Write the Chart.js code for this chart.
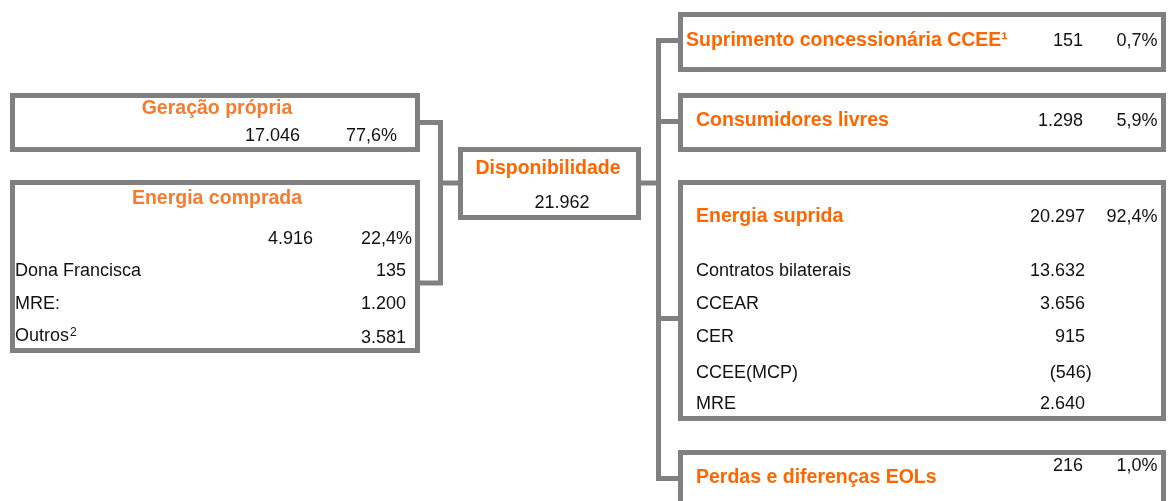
<!DOCTYPE html>
<html>
<head>
<meta charset="utf-8">
<script src="https://cdn.jsdelivr.net/npm/chart.js@4"></script>
<style>
  body { margin: 0; background: #fff; }
  #wrap { width: 1168px; height: 501px; }
</style>
</head>
<body>
<div id="wrap"><canvas id="flow" width="1168" height="501"></canvas></div>
<script>
// Energy balance values
const leftTitles = ['Geração própria', 'Energia comprada'];
const leftTotals = ['17.046', '4.916'];
const leftShares = ['77,6%', '22,4%'];
const boughtItems = ['Dona Francisca', 'MRE:', 'Outros'];
const boughtValues = ['135', '1.200', '3.581'];
const availableTitle = 'Disponibilidade';
const availableTotal = '21.962';
const rightTitles = ['Suprimento concessionária CCEE¹', 'Consumidores livres', 'Energia suprida', 'Perdas e diferenças EOLs'];
const rightTotals = ['151', '1.298', '20.297', '216'];
const rightShares = ['0,7%', '5,9%', '92,4%', '1,0%'];
const suppliedItems = ['Contratos bilaterais', 'CCEAR', 'CER', 'CCEE(MCP)', 'MRE'];
const suppliedValues = ['13.632', '3.656', '915', '(546)', '2.640'];

// Layout of the diagram, in reference pixel units (x 0..1168, y 0..501)
const gray = '#808080';
const orangeLeft = '#F47C30';
const orange = '#FF6600';
const boxes = [
    [12.5, 95.5, 417.5, 149.5],     // geração própria
    [12.5, 182.5, 417.5, 350.5],    // energia comprada
    [460.5, 149.5, 638.5, 217.5],   // disponibilidade
    [680.5, 14.5, 1163.5, 69.5],    // suprimento
    [680.5, 95.5, 1163.5, 149.5],   // consumidores livres
    [680.5, 182.5, 1163.5, 418.5],  // energia suprida
    [680.5, 452.5, 1163.5, 520]     // perdas
];
const connectors = [
    [[418, 122.5], [440.5, 122.5], [440.5, 283], [418, 283]],
    [[440.5, 183], [459, 183]],
    [[640, 183], [658.5, 183]],
    [[679, 40.5], [658.5, 40.5], [658.5, 478.5], [679, 478.5]],
    [[658.5, 121.5], [679, 121.5]],
    [[658.5, 318.5], [679, 318.5]]
];

function rectPoints(b) {
    return [
        { x: b[0], y: b[1] }, { x: b[2], y: b[1] },
        { x: b[2], y: b[3] }, { x: b[0], y: b[3] }, { x: b[0], y: b[1] }
    ];
}

function lineSet(points) {
    return {
        data: points,
        showLine: true,
        borderColor: gray,
        borderWidth: 5,
        borderJoinStyle: 'miter',
        borderCapStyle: 'square',
        pointRadius: 0,
        fill: false,
        tension: 0
    };
}

const datasets = boxes.map(b => lineSet(rectPoints(b)))
    .concat(connectors.map(c => lineSet(c.map(p => ({ x: p[0], y: p[1] })))));

// Text drawn through the chart scales
const textPlugin = {
    id: 'flowText',
    afterDatasetsDraw(chart) {
        const ctx = chart.ctx;
        const sx = chart.scales.x, sy = chart.scales.y;
        const put = (txt, x, y, align, font, color) => {
            ctx.font = font;
            ctx.fillStyle = color;
            ctx.textAlign = align;
            ctx.textBaseline = 'middle';
            ctx.fillText(txt, sx.getPixelForValue(x), sy.getPixelForValue(y));
        };
        const bold = 'bold 19.5px "Liberation Sans", Arial, sans-serif';
        const reg = '18px "Liberation Sans", Arial, sans-serif';
        const ink = '#111';

        ctx.save();
        // left side
        put(leftTitles[0], 217, 108.5, 'center', bold, orangeLeft);
        put(leftTotals[0], 300, 136.5, 'right', reg, ink);
        put(leftShares[0], 397, 136.5, 'right', reg, ink);
        put(leftTitles[1], 217, 199, 'center', bold, orangeLeft);
        put(leftTotals[1], 313, 239.5, 'right', reg, ink);
        put(leftShares[1], 412, 239.5, 'right', reg, ink);
        const boughtY = [271, 303.7, 336];
        boughtItems.forEach((t, i) => {
            put(t, 15, boughtY[i], 'left', reg, ink);
            put(boughtValues[i], 406, boughtY[i] + (i === 2 ? 2 : 0), 'right', reg, ink);
        });
        ctx.font = reg;
        const supX = 15 + ctx.measureText(boughtItems[2]).width + 1;
        put('2', supX, 332.5, 'left', '12px "Liberation Sans", Arial, sans-serif', ink);

        // centre
        put(availableTitle, 548, 169, 'center', bold, orange);
        put(availableTotal, 562, 203, 'center', reg, ink);

        // right side
        const titleX = [686, 696, 696, 696];
        const titleY = [40.5, 120.8, 216.5, 477.5];
        const numY = [41, 121, 216.7, 466];
        const numX = [1083, 1083, 1085, 1083];
        rightTitles.forEach((t, i) => {
            put(t, titleX[i], titleY[i], 'left', bold, orange);
            put(rightTotals[i], numX[i], numY[i], 'right', reg, ink);
            put(rightShares[i], 1157.5, numY[i], 'right', reg, ink);
        });
        const suppliedY = [270.8, 304, 337.5, 372.7, 404.5];
        suppliedItems.forEach((t, i) => {
            put(t, 696, suppliedY[i], 'left', reg, ink);
            put(suppliedValues[i], i === 3 ? 1091.7 : 1085, suppliedY[i], 'right', reg, ink);
        });
        ctx.restore();
    }
};

const flowChart = new Chart(document.getElementById('flow').getContext('2d'), {
    type: 'scatter',
    data: { datasets: datasets },
    options: {
        responsive: false,
        animation: false,
        events: [],
        layout: { padding: 0 },
        plugins: { legend: { display: false }, tooltip: { enabled: false } },
        scales: {
            x: { type: 'linear', min: 0, max: 1168, display: false },
            y: { type: 'linear', min: 0, max: 501, reverse: true, display: false }
        }
    },
    plugins: [textPlugin]
});
</script>
</body>
</html>
